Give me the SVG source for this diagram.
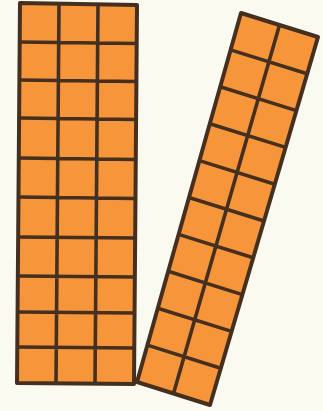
<svg xmlns="http://www.w3.org/2000/svg" width="323" height="411" viewBox="0 0 323 411">
<style>
.b{fill:#f7953b;stroke:#45301f;stroke-width:4;stroke-linejoin:round}
.g{stroke:#45301f;stroke-width:3.6;fill:none;stroke-linecap:butt}
</style>
<rect width="323" height="411" fill="#fbfaf1"/>
<g id="left-strip">
<polygon class="b" points="20,3 137,5 134,384 17,383"/>
<path class="g" d="M59,4 L56,383 M98,4.5 L95,383.5
M19.7,42 L136.7,43.5 M19.4,80 L136.4,81.5 M19.1,118 L136.1,119.5 M18.8,158 L135.8,159.5 M18.5,197 L135.5,198.5 M18.2,237 L135.2,238 M17.9,276 L134.9,277 M17.6,312 L134.6,313 M17.3,347 L134.3,348"/>
</g>
<g id="right-strip">
<polygon class="b" points="241,13 318,37 210,405 137,382"/>
<path class="g" d="M279.5,25 L173.5,393.5
M230.6,49.9 L307.2,73.8 M220.2,86.8 L296.4,110.6 M209.8,123.7 L285.6,147.4 M199.4,160.6 L274.8,184.2 M189,197.5 L264,221 M178.6,234.4 L253.2,257.8 M168.2,271.3 L242.4,294.6 M157.8,308.2 L231.6,331.4 M147.4,345.1 L220.8,368.2"/>
</g>
<g id="connectors"/>
</svg>
